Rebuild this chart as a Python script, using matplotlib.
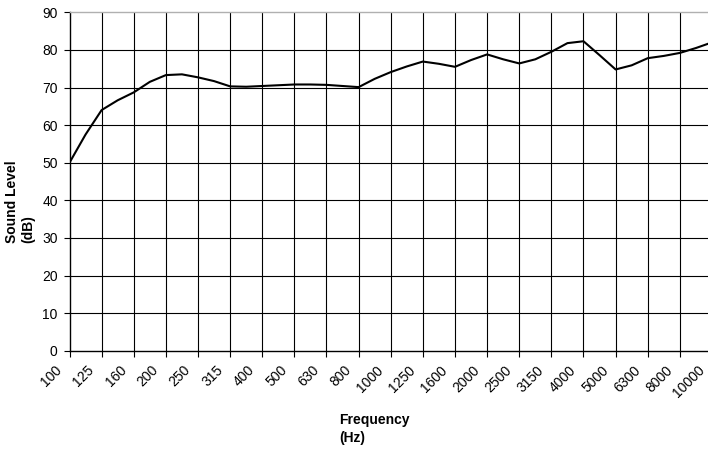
import matplotlib
matplotlib.use("Agg")
import matplotlib.pyplot as plt
import matplotlib.transforms as mtransforms
import numpy as np

plt.rcParams['font.family'] = ['Liberation Sans', 'DejaVu Sans']

# category labels (1/3-octave bands)
freq_labels = ["100", "125", "160", "200", "250", "315", "400", "500", "630", "800",
               "1000", "1250", "1600", "2000", "2500", "3150", "4000", "5000", "6300",
               "8000", "10000"]

# sound level read at every half category step (1/6 octave)
sound_level = [50.0, 57.5, 64.0, 66.6, 68.7, 71.5, 73.3, 73.5, 72.7, 71.7,
               70.3, 70.2, 70.4, 70.6, 70.8, 70.8, 70.7, 70.4, 70.1, 72.3,
               74.1, 75.6, 76.9, 76.3, 75.5, 77.3, 78.8, 77.5, 76.4, 77.5,
               79.5, 81.8, 82.3, 78.6, 74.8, 75.9, 77.8, 78.4, 79.2, 80.5,
               82.0]

y_ticks = list(range(0, 91, 10))

FS = 10
W, H = 708, 449
fig = plt.figure(figsize=(W / 100, H / 100), dpi=100)
left_px, right_px, top_px, bottom_px = 69.5, 712.0, 12.3, 350.7
ax = fig.add_axes([left_px / W, (H - bottom_px) / H,
                   (right_px - left_px) / W, (bottom_px - top_px) / H])

x = np.arange(len(sound_level)) / 2.0
ax.plot(x, sound_level, color='black', lw=1.5, solid_joinstyle='round', zorder=3)

ax.set_xlim(0, len(freq_labels) - 1)
ax.set_ylim(0, 90)
ax.set_xticks(range(len(freq_labels)))
ax.set_xticklabels(freq_labels, rotation=45, ha='right', va='top',
                   rotation_mode='anchor', fontsize=FS)
ax.set_yticks(y_ticks)
ax.set_yticklabels([str(v) for v in y_ticks], fontsize=FS)

for i in range(1, len(freq_labels)):
    ax.axvline(i, color='black', lw=0.8, zorder=1)
for v in y_ticks[1:-1]:
    ax.axhline(v, color='black', lw=0.8, zorder=1)

ax.spines['top'].set_color('#b0b0b0')
ax.spines['top'].set_linewidth(1.0)
ax.spines['right'].set_visible(False)
ax.spines['left'].set_linewidth(1.0)
ax.spines['bottom'].set_linewidth(1.0)
ax.tick_params(axis='both', direction='out', length=4, width=0.8, color='black')
ax.tick_params(axis='y', pad=4.5)
ax.tick_params(axis='x', pad=2)

shift = mtransforms.ScaledTranslation(-14.5 / 100, -4 / 100, fig.dpi_scale_trans)
for lab in ax.get_xticklabels():
    lab.set_transform(lab.get_transform() + shift)

fig.text(339 / W, 1 - 429 / H, "Frequency\n(Hz)", ha='left', va='center',
         multialignment='left', fontsize=FS, fontweight='bold', linespacing=1.35)
fig.text(20 / W, 1 - 202 / H, "Sound Level\n(dB)", ha='center', va='center',
         rotation=90, multialignment='left', fontsize=FS, fontweight='bold',
         linespacing=1.2)

fig.savefig("out.png", dpi=100)
